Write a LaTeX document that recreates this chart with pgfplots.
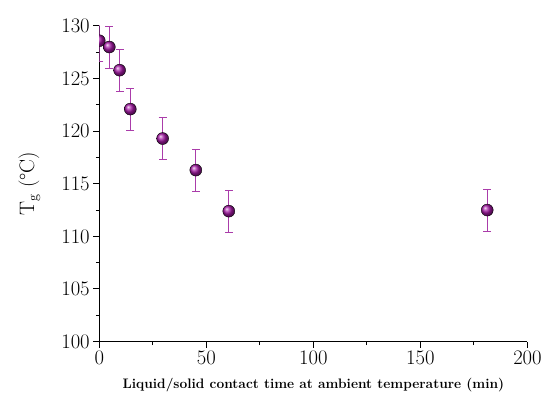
\documentclass[border=0pt]{standalone}
\usepackage{pgfplots}
\pgfplotsset{compat=1.18}
\definecolor{pball}{RGB}{165,25,165}
\definecolor{perr}{RGB}{170,60,170}
\pgfplotstableread{
x y ey
0 128.6 2
4.7 128.0 2
9.5 125.8 2
14.5 122.1 2
29.6 119.3 2
45.1 116.3 2
60.5 112.4 2
181.2 112.5 2
}\tgdata
\begin{document}
\begin{tikzpicture}
\path (0,0) rectangle (545bp,394bp);
\begin{axis}[
  at={(99.3bp,52.3bp)}, anchor=south west,
  scale only axis, width=428.4bp, height=315.7bp,
  xmin=0, xmax=200, ymin=100, ymax=130,
  axis lines*=left,
  axis line style={line width=1.2pt},
  tick align=outside,
  major tick length=6bp, minor tick length=3.5bp,
  every tick/.style={black, line width=1pt},
  xtick={0,50,...,200}, ytick={100,105,...,130},
  minor x tick num=1, minor y tick num=1,
  tick label style={font=\fontsize{20.5}{24}\selectfont},
  xlabel={Liquid/solid contact time at ambient temperature (min)},
  xlabel style={font=\fontsize{13.8}{16}\selectfont\bfseries,
    at={(axis description cs:0.5,-0.139)}, anchor=center},
  ylabel={T$_{\mathrm g}$ (\textdegree C)},
  ylabel style={font=\fontsize{21}{24}\selectfont,
    at={(axis description cs:-0.1634,0.5)}, anchor=center},
  clip marker paths=true,
]
\addplot[only marks, mark=ball, mark size=6bp, mark options={ball color=pball},
  error bars/.cd, y dir=both, y explicit,
  error bar style={perr, line width=0.8pt},
  error mark options={rotate=90, perr, mark size=4bp, line width=0.8pt}]
  table[x=x, y=y, y error=ey] {\tgdata};
\end{axis}
\end{tikzpicture}
\end{document}
